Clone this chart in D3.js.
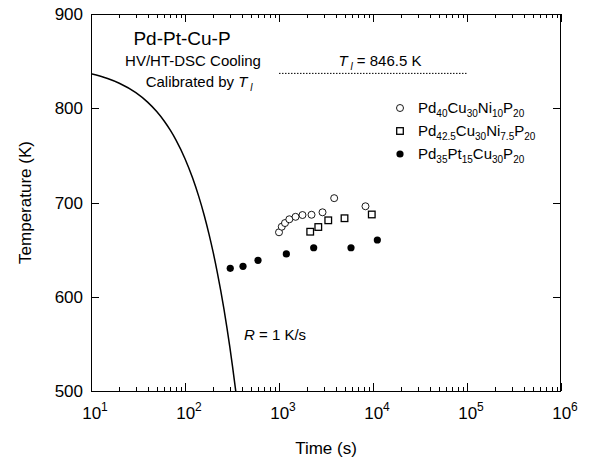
<!DOCTYPE html>
<html>
<head>
<meta charset="utf-8">
<script src="https://cdn.jsdelivr.net/npm/d3@7"></script>
<style>
  body { margin: 0; background: #fff; }
  svg { font-family: "Liberation Sans", Arial, sans-serif; }
</style>
</head>
<body>
<div id="chart"></div>
<script>
// values
var pd40Time = [1000, 1070, 1158, 1288, 1500, 1778, 2218, 2904, 3864, 8318];
var pd40Temp = [668.4, 674.3, 678.2, 682.2, 684.8, 686.7, 687.0, 689.6, 704.6, 696.0];

var pd425Time = [2148, 2618, 3342, 4977, 9705];
var pd425Temp = [669.0, 674.0, 681.1, 683.3, 687.3];

var pd35Time = [303, 414, 598, 1197, 2339, 5834, 11120];
var pd35Temp = [630.2, 632.3, 638.7, 645.4, 652.0, 652.0, 660.2];

// cooling curve R = 1 K/s
var curveTime = [10, 15, 20, 30, 40, 50, 60, 70, 80, 100, 120, 140, 160, 180, 200, 220, 240, 260, 280, 300, 320, 346.5];
var curveTemp = [836.5, 831.5, 826.5, 816.5, 806.5, 796.5, 786.5, 776.5, 766.5, 746.5, 726.5, 706.5, 686.5, 666.5, 646.5, 626.5, 606.5, 586.5, 566.5, 546.5, 526.5, 500];

// liquidus line
var liqTime = [1000, 100000];
var liqTemp = [837, 837];

var yTicks = [500, 600, 700, 800, 900];
var xTickExp = [1, 2, 3, 4, 5, 6];

var legendLabels = [
  [["Pd", "40"], ["Cu", "30"], ["Ni", "10"], ["P", "20"]],
  [["Pd", "42.5"], ["Cu", "30"], ["Ni", "7.5"], ["P", "20"]],
  [["Pd", "35"], ["Pt", "15"], ["Cu", "30"], ["P", "20"]]
];

var margin = { top: 14, right: 28, bottom: 74, left: 91 },
  width = 470,
  height = 377;

var svg = d3.select("#chart")
  .append("svg")
  .attr("width", 589)
  .attr("height", 465)
  .append("g")
  .attr("transform", "translate(" + margin.left + "," + margin.top + ")");

var x = d3.scaleLog().domain([10, 1e6]).range([0, width]);
var y = d3.scaleLinear().domain([500, 900]).range([height, 0]);

// minor + major ticks on x (inward, top and bottom)
var xMinor = [];
for (var e = 1; e < 6; e++) {
  for (var m = 2; m <= 9; m++) xMinor.push(m * Math.pow(10, e));
}
var xMajor = xTickExp.map(function (d) { return Math.pow(10, d); });

var ticks = svg.append("g").attr("stroke", "#000").attr("stroke-width", 1);
xMinor.forEach(function (v) {
  var px = Math.round(x(v)) + 0.5;
  ticks.append("line").attr("x1", px).attr("x2", px).attr("y1", height).attr("y2", height - 4);
  ticks.append("line").attr("x1", px).attr("x2", px).attr("y1", 0).attr("y2", 4);
});
xMajor.forEach(function (v) {
  var px = Math.round(x(v)) + 0.5;
  ticks.append("line").attr("x1", px).attr("x2", px).attr("y1", height).attr("y2", height - 8);
  ticks.append("line").attr("x1", px).attr("x2", px).attr("y1", 0).attr("y2", 8);
});
yTicks.forEach(function (v) {
  var py = Math.round(y(v)) + 0.5;
  ticks.append("line").attr("x1", 0).attr("x2", 8).attr("y1", py).attr("y2", py);
  ticks.append("line").attr("x1", width).attr("x2", width - 8).attr("y1", py).attr("y2", py);
});

// frame
svg.append("rect")
  .attr("x", 0.5).attr("y", 0.5)
  .attr("width", width - 1).attr("height", height)
  .attr("fill", "none").attr("stroke", "#000").attr("stroke-width", 1);

// y tick labels
svg.selectAll(".ylab")
  .data(yTicks).enter()
  .append("text")
  .attr("x", -8)
  .attr("y", function (d) { return y(d) + 6; })
  .attr("text-anchor", "end")
  .style("font-size", "17px")
  .text(function (d) { return d; });

// x tick labels 10^n
var xl = svg.selectAll(".xlab")
  .data(xTickExp).enter()
  .append("text")
  .attr("x", function (d) { return x(Math.pow(10, d)) + 4; })
  .attr("y", height + 28)
  .attr("text-anchor", "middle")
  .style("font-size", "17px");
xl.append("tspan").text("10");
xl.append("tspan").attr("dy", -8).style("font-size", "12px").text(function (d) { return d; });

// axis titles
svg.append("text")
  .attr("x", width / 2)
  .attr("y", height + 63)
  .attr("text-anchor", "middle")
  .style("font-size", "17px")
  .text("Time (s)");

svg.append("text")
  .attr("transform", "translate(" + (-60) + "," + (height / 2) + ") rotate(-90)")
  .attr("text-anchor", "middle")
  .style("font-size", "17px")
  .text("Temperature (K)");

// clip for curve
svg.append("clipPath").attr("id", "clip")
  .append("rect").attr("width", width).attr("height", height);

var curve = d3.line()
  .x(function (d, i) { return x(curveTime[i]); })
  .y(function (d, i) { return y(curveTemp[i]); })
  .curve(d3.curveMonotoneX);

svg.append("path")
  .attr("d", curve(curveTime))
  .attr("clip-path", "url(#clip)")
  .attr("fill", "none")
  .attr("stroke", "#000")
  .attr("stroke-width", 1.5);

// liquidus dotted line
svg.append("line")
  .attr("x1", x(liqTime[0])).attr("x2", x(liqTime[1]))
  .attr("y1", y(liqTemp[0])).attr("y2", y(liqTemp[1]))
  .attr("stroke", "#000")
  .attr("stroke-width", 1)
  .attr("stroke-dasharray", "1.5,1.5");

// markers
svg.selectAll(".pd40")
  .data(pd40Time).enter()
  .append("circle")
  .attr("cx", function (d) { return x(d); })
  .attr("cy", function (d, i) { return y(pd40Temp[i]); })
  .attr("r", 3.5)
  .attr("fill", "#fff")
  .attr("stroke", "#000")
  .attr("stroke-width", 0.9);

svg.selectAll(".pd425")
  .data(pd425Time).enter()
  .append("rect")
  .attr("x", function (d) { return x(d) - 3.3; })
  .attr("y", function (d, i) { return y(pd425Temp[i]) - 3.3; })
  .attr("width", 6.6).attr("height", 6.6)
  .attr("fill", "#fff")
  .attr("stroke", "#000")
  .attr("stroke-width", 1.3);

svg.selectAll(".pd35")
  .data(pd35Time).enter()
  .append("circle")
  .attr("cx", function (d) { return x(d); })
  .attr("cy", function (d, i) { return y(pd35Temp[i]); })
  .attr("r", 3.6)
  .attr("fill", "#000");

// annotation texts
svg.append("text")
  .attr("x", 91).attr("y", 31)
  .attr("text-anchor", "middle")
  .style("font-size", "19px")
  .text("Pd-Pt-Cu-P");

svg.append("text")
  .attr("x", 102).attr("y", 52)
  .attr("text-anchor", "middle")
  .style("font-size", "15px")
  .text("HV/HT-DSC Cooling");

var cal = svg.append("text")
  .attr("x", 108).attr("y", 73)
  .attr("text-anchor", "middle")
  .style("font-size", "15px");
cal.append("tspan").text("Calibrated by ");
cal.append("tspan").style("font-style", "italic").text("T");
cal.append("tspan").attr("dy", 4).style("font-style", "italic").style("font-size", "10px").text(" l");

var tl = svg.append("text")
  .attr("x", 289).attr("y", 52)
  .attr("text-anchor", "middle")
  .style("font-size", "15px");
tl.append("tspan").style("font-style", "italic").text("T");
tl.append("tspan").attr("dy", 4).style("font-style", "italic").style("font-size", "10px").text(" l");
tl.append("tspan").attr("dy", -4).text(" = 846.5 K");

var rl = svg.append("text")
  .attr("x", 153).attr("y", 326)
  .style("font-size", "15px");
rl.append("tspan").style("font-style", "italic").text("R");
rl.append("tspan").text(" = 1 K/s");

// legend
var legendY = [94, 117, 140];
legendLabels.forEach(function (parts, i) {
  var t = svg.append("text")
    .attr("x", 327).attr("y", legendY[i] + 5)
    .style("font-size", "15px");
  parts.forEach(function (p, j) {
    t.append("tspan").attr("dy", j === 0 ? 0 : -4).text(p[0]);
    t.append("tspan").attr("dy", 4).style("font-size", "10px").text(p[1]);
  });
});
svg.append("circle").attr("cx", 309).attr("cy", legendY[0]).attr("r", 3.5)
  .attr("fill", "#fff").attr("stroke", "#000").attr("stroke-width", 0.9);
svg.append("rect").attr("x", 305.7).attr("y", legendY[1] - 3.3).attr("width", 6.6).attr("height", 6.6)
  .attr("fill", "#fff").attr("stroke", "#000").attr("stroke-width", 1.3);
svg.append("circle").attr("cx", 309).attr("cy", legendY[2]).attr("r", 3.6).attr("fill", "#000");
</script>
</body>
</html>
